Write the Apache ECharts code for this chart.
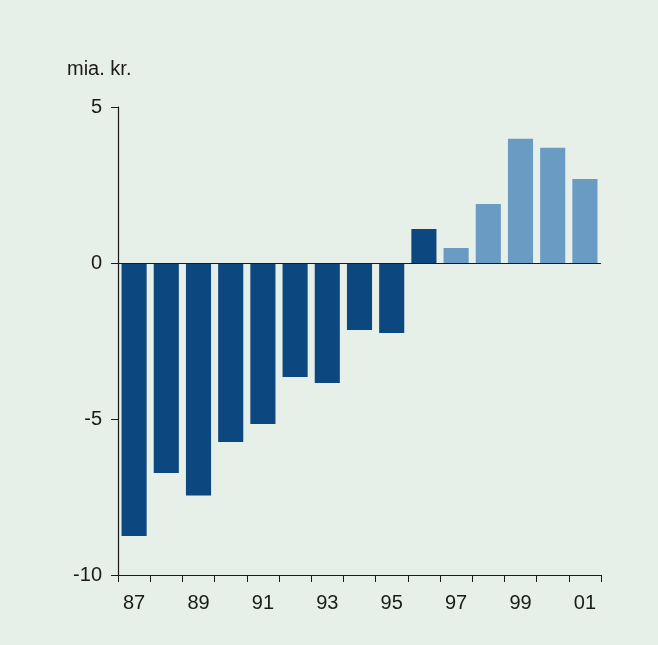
<!DOCTYPE html>
<html>
<head>
<meta charset="utf-8">
<script src="https://cdn.jsdelivr.net/npm/echarts@6/dist/echarts.min.js"></script>
<style>
html,body{margin:0;padding:0;background:#e7efe9;}
#c{width:658px;height:645px;}
</style>
</head>
<body>
<div id="c"></div>
<script>
var categories = ['87','88','89','90','91','92','93','94','95','96','97','98','99','00','01'];
var values = [-8.75, -6.73, -7.45, -5.74, -5.16, -3.65, -3.85, -2.15, -2.24, 1.09, 0.48, 1.89, 3.98, 3.69, 2.69];
var lightFromIndex = 10;
var yTicks = [-10, -5, 0, 5];
var unitLabel = 'mia. kr.';

var darkColor = '#0d4780';
var lightColor = '#6a9bc3';
var fontFam = '"Liberation Sans", Arial, Helvetica, sans-serif';

var chart = echarts.init(document.getElementById('c'), null, {renderer: 'canvas'});
chart.setOption({
  backgroundColor: '#e7efe9',
  animation: false,
  graphic: [{
    type: 'text', left: 67, top: 59,
    style: {text: unitLabel, font: '20px ' + fontFam, fill: '#1a1a1a'}
  }],
  grid: {left: 118, right: 57, top: 107, bottom: 70, containLabel: false},
  xAxis: {
    type: 'category',
    data: categories,
    boundaryGap: true,
    axisLine: {onZero: false, lineStyle: {color: '#1a1a1a', width: 1.2}},
    axisTick: {show: true, length: 7, inside: false, interval: 0, alignWithLabel: false, lineStyle: {color: '#1a1a1a'}},
    axisLabel: {interval: 1, margin: 18, fontSize: 20, fontFamily: fontFam, color: '#1a1a1a'},
    splitLine: {show: false}
  },
  yAxis: {
    type: 'value',
    min: yTicks[0], max: yTicks[yTicks.length - 1], interval: 5,
    axisLine: {show: true, lineStyle: {color: '#1a1a1a', width: 1.2}},
    axisTick: {show: true, length: 7, lineStyle: {color: '#1a1a1a'}},
    axisLabel: {margin: 16, fontSize: 20, fontFamily: fontFam, color: '#1a1a1a'},
    splitLine: {show: false}
  },
  series: [{
    type: 'bar',
    data: values,
    barCategoryGap: '22%',
    itemStyle: {
      color: function (p) { return p.dataIndex >= lightFromIndex ? lightColor : darkColor; }
    },
    markLine: {
      silent: true, symbol: 'none', label: {show: false},
      lineStyle: {color: '#1a1a1a', type: 'solid', width: 1.2},
      data: [{yAxis: 0}]
    }
  }]
});
</script>
</body>
</html>
